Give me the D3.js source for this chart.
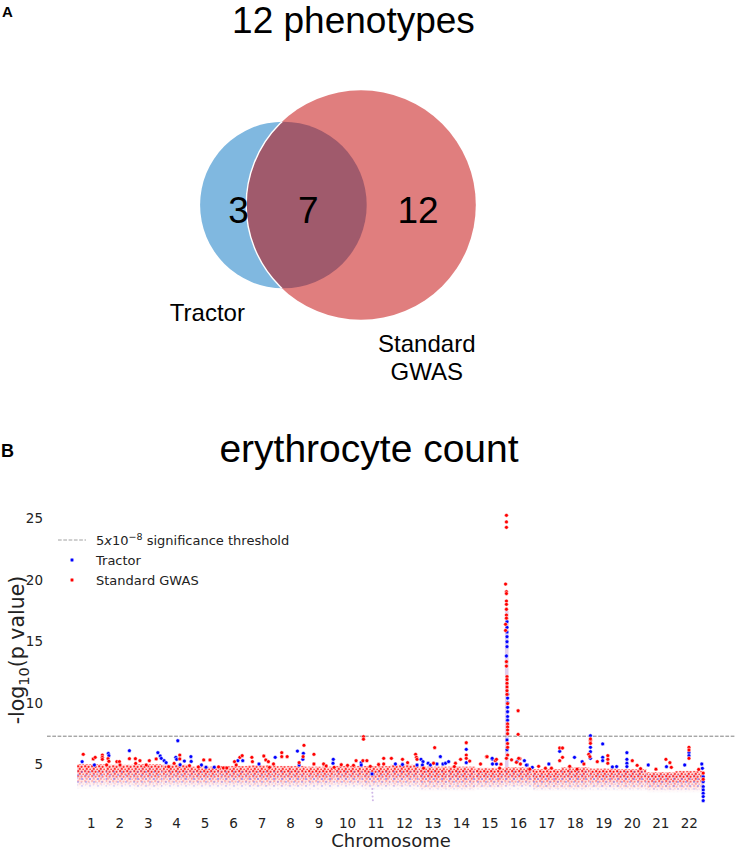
<!DOCTYPE html>
<html>
<head>
<meta charset="utf-8">
<script src="https://cdn.jsdelivr.net/npm/d3@7"></script>
<style>
  body { margin: 0; background: #fff; }
  svg { display: block; }
  .dv { font-family: "DejaVu Sans", sans-serif; }
  .ar { font-family: "Liberation Sans", Arial, sans-serif; }
</style>
</head>
<body>
<div id="chart"></div>
<script>
// ---------- panel A data (venn) ----------
var vennSets = ["Tractor", "Standard GWAS"];
var vennOnlyTractor = 3;
var vennShared = 7;
var vennOnlyGwas = 12;
var nPhenotypes = 12;

// ---------- panel B data (manhattan) ----------
var chromosomes = d3.range(1, 23);
var yTicks = [5, 10, 15, 20, 25];
var threshold = -Math.log10(5e-8);

// visible dots, [position along genome (chromosome units), -log10 p]
var tractorHits = [
  [0.18,5.23],[0.61,4.96],[1.10,5.9],[1.12,5.72],[1.84,6.12],[2.84,5.96],[2.92,5.69],[2.96,5.5],
  [3.06,5.31],[3.13,5.15],[3.54,6.93],[3.47,5.58],[3.50,5.42],[3.62,4.98],[3.77,5.28],[4.0,5.64],
  [4.01,5.25],[4.37,4.96],[4.53,4.78],[4.82,4.78],[5.65,5.31],[5.82,5.31],[6.39,5.04],[6.96,5.58],
  [7.74,6.09],[7.95,5.91],[7.93,5.42],[7.80,4.96],[9.0,5.42],[8.99,5.1],[9.98,5.15],[9.98,4.96],
  [10.36,4.23],[11.18,5.04],[11.43,5.0],[11.94,4.96],[12.08,5.42],[12.15,5.23],[12.13,4.96],
  [12.33,5.1],[12.41,4.96],[12.64,5.04],[12.76,5.64],[12.85,5.04],[12.94,5.1],[13.05,5.23],
  [13.67,6.23],[13.67,5.15],[14.59,5.42],[14.59,5.04],[14.73,5.04],[15.71,5.31],[15.81,4.96],
  [15.99,4.77],[16.57,5.04],[16.95,6.07],[17.47,5.58],[17.74,5.23],[18.03,7.34],[18.03,6.4],
  [18.03,6.04],[18.03,5.5],[18.46,6.67],[18.46,5.58],[18.46,5.31],[18.8,4.8],[18.95,4.83],
  [19.31,5.96],[19.31,5.42],[19.31,5.1],[19.31,4.83],[20.06,4.96],[20.7,4.82],[21.34,4.96],
  [21.49,5.96],[21.49,5.72],[21.94,5.04],[21.96,4.69],
  [21.99,4.01],[21.99,3.6],[21.99,3.2],[21.99,2.93],[21.99,2.66],[21.99,2.39],[21.99,2.06],
  [15.1,16.61],[15.1,16.15],[15.1,15.77],[15.1,15.39],[15.1,14.98],[15.1,14.58],[15.08,13.82],
  [15.12,10.71],[15.12,10.4],[15.12,10.02],[15.12,9.65],[15.12,9.29],[15.12,8.9],[15.12,8.6],
  [15.1,6.99],[15.1,6.2],[14.58,5.5],[15.45,5.25],[15.78,4.95]
];
var gwasHits = [
  [0.22,5.83],[0.57,5.45],[0.64,5.58],[0.89,5.77],[0.89,5.58],[0.89,5.42],[1.09,5.47],[1.12,5.26],
  [1.04,4.96],[1.40,5.23],[1.49,5.23],[1.51,4.96],[1.84,5.47],[2.05,5.47],[2.21,5.31],[2.06,5.09],
  [2.43,4.96],[2.54,5.31],[2.78,5.45],[3.22,4.82],[3.61,5.77],[3.61,5.45],[3.41,5.09],[3.95,4.9],
  [4.26,4.8],[4.45,5.37],[4.67,5.37],[4.97,4.8],[5.14,4.72],[5.26,4.72],[5.53,5.23],[5.59,4.96],
  [5.72,5.58],[5.8,5.72],[6.14,5.58],[6.16,5.23],[6.56,5.69],[6.63,5.37],[6.72,5.23],[6.9,5.04],
  [6.76,4.77],[7.19,5.96],[7.19,5.64],[7.38,5.64],[7.97,6.56],[7.94,5.64],[7.80,5.15],[8.32,5.83],
  [8.32,5.04],[8.66,5.04],[8.75,4.88],[9.03,4.77],[9.28,4.98],[9.5,4.93],[9.71,4.93],[9.80,5.31],
  [10.06,7.26],[10.06,7.06],[10.04,5.31],[10.18,5.31],[10.30,4.85],[10.59,5.0],[10.77,5.5],
  [10.77,5.04],[11.04,5.5],[11.43,5.42],[11.61,5.15],[11.89,5.83],[11.92,5.58],[11.94,5.42],
  [12.17,4.7],[12.56,6.37],[12.52,5.1],[13.29,5.1],[13.25,4.83],[13.47,5.42],[13.67,6.77],
  [13.67,5.77],[13.67,5.5],[13.79,5.28],[14.17,5.04],[14.38,5.64],[14.69,5.31],[14.84,4.7],
  [15.43,5.18],[15.55,5.47],[15.57,5.04],[15.9,4.62],[16.21,4.85],[16.45,4.7],[16.66,4.7],
  [16.95,6.34],[17.05,6.34],[16.95,5.31],[17.05,5.58],[17.3,4.85],[17.56,4.62],[17.80,5.04],
  [17.97,5.83],[18.01,5.64],[18.03,6.94],[18.03,7.08],[18.03,6.72],[18.64,5.72],[18.64,5.42],
  [18.64,5.1],[18.27,5.23],[19.5,5.31],[19.67,4.93],[19.79,4.66],[20.33,4.62],[20.68,5.42],
  [20.82,5.15],[20.87,4.77],[21.49,6.4],[21.49,6.18],[21.49,5.5],[21.83,4.6],[21.99,4.3],[21.99,3.8],
  [15.08,25.26],[15.08,24.72],[15.08,24.28],[15.05,19.67],[15.08,19.05],[15.08,18.9],[15.08,18.29],
  [15.08,18.02],[15.08,17.62],[15.08,17.15],[15.08,16.9],[15.05,16.4],[15.05,15.9],[15.08,13.36],
  [15.08,13.0],[15.1,12.14],[15.1,11.9],[15.1,11.6],[15.1,11.3],[15.1,11.0],[15.1,10.7],[15.12,9.95],
  [15.12,8.3],[15.12,8.05],[15.12,7.8],[15.12,7.5],[15.12,6.7],[15.12,6.4],[15.12,5.77],[15.08,5.5],
  [14.4,5.63],[14.73,5.42],[14.89,5.03],[15.51,5.5],[15.26,5.38],[15.49,9.37],[15.49,7.45]
];
// dense sub-threshold cloud of tiny points, per chromosome (top / bottom of -log10 p)
var gwasBandTop    = [5.05,5.0,5.05,5.0,4.85,4.9,4.95,4.9,4.85,4.9,4.9,5.0,4.85,4.85,4.75,4.8,4.65,4.8,4.7,4.65,4.4,4.5];
var gwasBandLow    = [3.3,3.3,3.2,3.3,3.3,3.3,3.2,3.2,3.3,3.3,3.2,3.2,3.0,3.0,3.1,3.2,3.0,3.0,3.1,3.0,2.9,2.9];
var tractorBandTop = [4.6,4.6,4.7,4.6,4.5,4.6,4.5,4.5,4.4,4.5,4.5,4.6,4.5,4.5,4.4,4.5,4.3,4.5,4.4,4.5,4.2,4.2];
var tractorBandLow = [3.0,3.0,2.9,3.0,3.0,2.9,2.9,2.9,2.9,3.0,2.9,2.9,2.8,2.8,2.9,2.9,2.8,2.8,2.8,2.8,2.7,2.7];
// faint column under the chr16 peak: [position, low, high]
var peakSpread = [15.09, 4.8, 17.5];
// faint points dipping below the cloud near the start of chr11
var faintHits = [[10.37,3.0],[10.37,2.7],[10.38,2.4],[10.39,2.1]];

var width = 736, height = 849;
var svg = d3.select('#chart').append('svg')
  .attr('width', width).attr('height', height);

var defs = svg.append('defs');

// ================= PANEL A =================
svg.append('text').attr('class', 'ar')
  .attr('x', 2).attr('y', 17)
  .attr('font-size', 15).attr('font-weight', 'bold').text('A');

svg.append('text').attr('class', 'ar')
  .attr('x', 353.5).attr('y', 33)
  .attr('text-anchor', 'middle').attr('font-size', 37)
  .text(nPhenotypes + ' phenotypes');

var nTractor = vennOnlyTractor + vennShared;
var nGwas = vennOnlyGwas + vennShared;
var rScale = d3.scaleSqrt().domain([0, nTractor]).range([0, 83.3]);
var r1 = rScale(nTractor), r2 = rScale(nGwas);

// distance between centres so that the lens area matches the shared count
function lens(d) {
  var a = r1 * r1 * Math.acos((d * d + r1 * r1 - r2 * r2) / (2 * d * r1));
  var b = r2 * r2 * Math.acos((d * d + r2 * r2 - r1 * r1) / (2 * d * r2));
  var c = 0.5 * Math.sqrt((-d + r1 + r2) * (d + r1 - r2) * (d - r1 + r2) * (d + r1 + r2));
  return a + b - c;
}
var target = Math.PI * r1 * r1 * vennShared / nTractor;
var lo = Math.abs(r2 - r1) + 1e-6, hi = r1 + r2 - 1e-6;
for (var k = 0; k < 60; k++) {
  var mid = (lo + hi) / 2;
  if (lens(mid) > target) lo = mid; else hi = mid;
}
var dist = (lo + hi) / 2;

var venn = svg.append('g').attr('transform', 'translate(283.4,205)');

defs.append('clipPath').attr('id', 'clipBlue')
  .append('circle').attr('cx', 0).attr('cy', 0).attr('r', r1);

venn.append('circle').attr('cx', 0).attr('cy', 0).attr('r', r1).attr('fill', '#80b8e0');
venn.append('circle').attr('cx', dist).attr('cy', 0).attr('r', r2).attr('fill', '#e07e7e');
venn.append('circle').attr('cx', dist).attr('cy', 0).attr('r', r2)
  .attr('clip-path', 'url(#clipBlue)').attr('fill', '#a05a6c');
venn.append('circle').attr('cx', dist).attr('cy', 0).attr('r', r2)
  .attr('clip-path', 'url(#clipBlue)').attr('fill', 'none')
  .attr('stroke', '#fff').attr('stroke-width', 1.4);

var vennLabels = [
  { t: vennOnlyTractor, x: -44.8 },
  { t: vennShared, x: 24.8 },
  { t: vennOnlyGwas, x: 134.6 }
];
venn.selectAll('.cnt').data(vennLabels).enter().append('text')
  .attr('class', 'ar cnt').attr('x', function (d) { return d.x; }).attr('y', 18.3)
  .attr('text-anchor', 'middle').attr('font-size', 37)
  .text(function (d) { return d.t; });

venn.append('text').attr('class', 'ar').attr('x', -76).attr('y', 115.7)
  .attr('text-anchor', 'middle').attr('font-size', 24).text(vennSets[0]);
var gl = venn.append('text').attr('class', 'ar').attr('text-anchor', 'middle').attr('font-size', 24);
gl.append('tspan').attr('x', 143.4).attr('y', 146.7).text(vennSets[1].split(' ')[0]);
gl.append('tspan').attr('x', 143.4).attr('y', 175).text(vennSets[1].split(' ')[1]);

// ================= PANEL B =================
svg.append('text').attr('class', 'ar')
  .attr('x', 1).attr('y', 456.7).attr('font-size', 18).attr('font-weight', 'bold').text('B');

svg.append('text').attr('class', 'ar')
  .attr('x', 369).attr('y', 462).attr('text-anchor', 'middle').attr('font-size', 39)
  .text('erythrocyte count');

var x = d3.scaleLinear().domain([0, 22]).range([77, 703.5]);
var y = d3.scaleLinear().domain([5, 25]).range([764.5, 518.5]);

// textures for the dense cloud of small points
function dotPattern(id, col, w, h, pts) {
  var p = defs.append('pattern').attr('id', id).attr('patternUnits', 'userSpaceOnUse')
    .attr('width', w).attr('height', h);
  pts.forEach(function (c) {
    p.append('circle').attr('cx', c[0]).attr('cy', c[1]).attr('r', c[2])
      .attr('fill', col).attr('fill-opacity', c[3])
      .attr('stroke', '#fff').attr('stroke-width', 0.35);
  });
}
dotPattern('patRed', '#ff0000', 7, 5,
  [[1.2,1.2,1.4,1],[4.6,1.8,1.3,1],[2.8,3.9,1.3,0.95],[6.2,4.3,1.1,0.85]]);
dotPattern('patBlue', '#2030ff', 8, 7,
  [[2,2,1.1,1],[6,5,1.0,0.9],[5.5,1,0.7,0.7],[1.2,5.8,0.7,0.7]]);

function fadeMask(id, stops) {
  var g = defs.append('linearGradient').attr('id', id + 'G')
    .attr('x1', 0).attr('y1', 0).attr('x2', 0).attr('y2', 1);
  stops.forEach(function (s) {
    g.append('stop').attr('offset', s[0]).attr('stop-color', '#fff').attr('stop-opacity', s[1]);
  });
  defs.append('mask').attr('id', id).attr('maskContentUnits', 'objectBoundingBox')
    .append('rect').attr('width', 1).attr('height', 1).attr('fill', 'url(#' + id + 'G)');
}
fadeMask('mRed', [[0, 0.5], [0.15, 0.95], [0.4, 0.8], [0.65, 0.4], [1, 0.05]]);
fadeMask('mBlue', [[0, 0.35], [0.4, 0.7], [0.75, 0.4], [1, 0]]);

var plot = svg.append('g');
var cw = x(1) - x(0);

// pink haze behind the cloud
plot.selectAll('.hz').data(gwasBandTop).enter().append('rect')
  .attr('x', function (d, i) { return x(i); }).attr('width', cw)
  .attr('y', function (d) { return y(d); })
  .attr('height', function (d, i) { return y(tractorBandLow[i]) - y(d); })
  .attr('fill', '#ff9a9a').attr('opacity', 0.45).attr('mask', 'url(#mRed)');

plot.selectAll('.rb').data(gwasBandTop).enter().append('rect')
  .attr('x', function (d, i) { return x(i); }).attr('width', cw)
  .attr('y', function (d) { return y(d); })
  .attr('height', function (d, i) { return y(gwasBandLow[i]) - y(d); })
  .attr('fill', 'url(#patRed)').attr('mask', 'url(#mRed)');
plot.selectAll('.bb').data(tractorBandTop).enter().append('rect')
  .attr('x', function (d, i) { return x(i); }).attr('width', cw)
  .attr('y', function (d) { return y(d); })
  .attr('height', function (d, i) { return y(tractorBandLow[i]) - y(d); })
  .attr('fill', 'url(#patBlue)').attr('mask', 'url(#mBlue)');

plot.append('rect')
  .attr('x', x(peakSpread[0]) - 1.8).attr('width', 3.6)
  .attr('y', y(peakSpread[2])).attr('height', y(peakSpread[1]) - y(peakSpread[2]))
  .attr('fill', '#c8a0e0').attr('opacity', 0.55);

plot.selectAll('.fh').data(faintHits).enter().append('circle')
  .attr('cx', function (d) { return x(d[0]); }).attr('cy', function (d) { return y(d[1]); })
  .attr('r', 1).attr('fill', '#a070d0').attr('opacity', 0.5);

// threshold
plot.append('line')
  .attr('x1', 47).attr('x2', 736).attr('y1', y(threshold)).attr('y2', y(threshold))
  .attr('stroke', '#808080').attr('stroke-width', 1).attr('stroke-dasharray', '3.7,1.6');

function dots(data, col) {
  plot.append('g').selectAll('circle').data(data).enter().append('circle')
    .attr('cx', function (d) { return x(d[0]); })
    .attr('cy', function (d) { return y(d[1]); })
    .attr('r', 1.9).attr('fill', col)
    .attr('stroke', '#fff').attr('stroke-width', 0.5);
}
dots(tractorHits, '#0000ff');
dots(gwasHits, '#ff0000');

// axes (no spines, no tick marks)
svg.append('g').attr('class', 'dv').selectAll('text').data(yTicks).enter().append('text')
  .attr('x', 43).attr('y', function (d) { return y(d); }).attr('dy', '0.36em')
  .attr('text-anchor', 'end').attr('font-size', 13.5).attr('fill', '#222')
  .text(function (d) { return d; });

svg.append('g').attr('class', 'dv').selectAll('text').data(chromosomes).enter().append('text')
  .attr('x', function (d) { return x(d - 0.5); }).attr('y', 828)
  .attr('text-anchor', 'middle').attr('font-size', 13.5).attr('fill', '#222')
  .text(function (d) { return d; });

svg.append('text').attr('class', 'dv')
  .attr('x', 391).attr('y', 846.5).attr('text-anchor', 'middle').attr('font-size', 18).attr('fill', '#222')
  .text('Chromosome');

var yl = svg.append('text').attr('class', 'dv')
  .attr('transform', 'translate(24,650) rotate(-90)')
  .attr('text-anchor', 'middle').attr('font-size', 20.5).attr('fill', '#222');
yl.append('tspan').text('-log');
yl.append('tspan').attr('font-size', 14.5).attr('dy', 4.5).text('10');
yl.append('tspan').attr('dy', -4.5).text('(p value)');

// legend
var lg = svg.append('g').attr('class', 'dv').attr('font-size', 13).attr('fill', '#222');
lg.append('line').attr('x1', 58).attr('x2', 86).attr('y1', 540).attr('y2', 540)
  .attr('stroke', '#a0a0a0').attr('stroke-dasharray', '3.7,1.6');
var lt = lg.append('text').attr('x', 96).attr('y', 544.5);
lt.append('tspan').text('5');
lt.append('tspan').attr('font-style', 'italic').text('x');
lt.append('tspan').text('10');
lt.append('tspan').attr('font-size', 9.5).attr('dy', -5).text('\u22128');
lt.append('tspan').attr('dy', 5).text(' significance threshold');

var legItems = [{ t: 'Tractor', c: '#0000ff' }, { t: 'Standard GWAS', c: '#ff0000' }];
legItems.forEach(function (d, i) {
  lg.append('circle').attr('cx', 72).attr('cy', 560 + i * 20).attr('r', 1.9)
    .attr('fill', d.c).attr('stroke', '#fff').attr('stroke-width', 0.5);
  lg.append('text').attr('x', 96).attr('y', 564.5 + i * 20).text(d.t);
});
</script>
</body>
</html>
